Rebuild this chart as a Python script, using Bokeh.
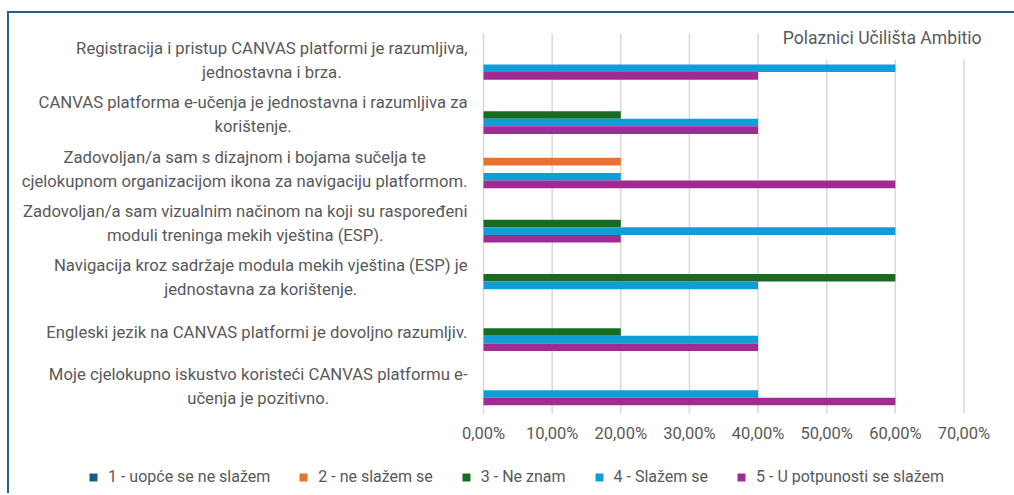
from bokeh.plotting import figure
from bokeh.layouts import column
from bokeh.models import (ColumnDataSource, FactorRange, Range1d, FixedTicker, Label,
                          Legend, LegendItem)
from bokeh.core.properties import value
from bokeh.transform import dodge
from bokeh.embed import file_html
from bokeh.resources import INLINE

categories = [
    "Registracija i pristup CANVAS platformi je razumljiva,\njednostavna i brza.",
    "CANVAS platforma e-učenja je jednostavna i razumljiva za\nkorištenje.",
    "Zadovoljan/a sam s dizajnom i bojama sučelja te\ncjelokupnom organizacijom ikona za navigaciju platformom.",
    "Zadovoljan/a sam vizualnim načinom na koji su raspoređeni\nmoduli treninga mekih vještina (ESP).",
    "Navigacija kroz sadržaje modula mekih vještina (ESP) je\njednostavna za korištenje.",
    "Engleski jezik na CANVAS platformi je dovoljno razumljiv.",
    "Moje cjelokupno iskustvo koristeći CANVAS platformu e-\nučenja je pozitivno.",
]
series_names = ["1 - uopće se ne slažem", "2 - ne slažem se", "3 - Ne znam",
                "4 - Slažem se", "5 - U potpunosti se slažem"]
s1 = [0.0, 0.0, 0.0, 0.0, 0.0, 0.0, 0.0]
s2 = [0.0, 0.0, 0.2, 0.0, 0.0, 0.0, 0.0]
s3 = [0.0, 0.2, 0.0, 0.2, 0.6, 0.2, 0.0]
s4 = [0.6, 0.4, 0.2, 0.6, 0.4, 0.4, 0.4]
s5 = [0.4, 0.4, 0.6, 0.2, 0.0, 0.4, 0.6]
colors = ["#156082", "#E97132", "#196B24", "#0F9ED5", "#A02B93"]
x_ticks = [0.0, 0.1, 0.2, 0.3, 0.4, 0.5, 0.6, 0.7]
x_tick_labels = ["0,00%", "10,00%", "20,00%", "30,00%", "40,00%", "50,00%", "60,00%", "70,00%"]
title_text = "Polaznici Učilišta Ambitio"

FONT = "Roboto"
GREY = "#595959"
n = len(categories)

source = ColumnDataSource(dict(cat=categories, s1=s1, s2=s2, s3=s3, s4=s4, s5=s5))
grid_src = ColumnDataSource(dict(x=x_ticks, y0=[0] * len(x_ticks), y1=[n] * len(x_ticks)))

# ---------------- main chart ----------------
p = figure(width=1005, height=440, output_backend="svg", toolbar_location=None,
           y_range=FactorRange(factors=list(reversed(categories)),
                               range_padding=0.1474, range_padding_units="absolute"),
           x_range=Range1d(-0.6906, 0.7736),
           min_border_left=0, min_border_right=0, min_border_top=12, min_border_bottom=32)
p.outline_line_color = None
p.background_fill_color = "white"
p.border_fill_color = "white"
p.xgrid.visible = False
p.ygrid.visible = False
p.yaxis.visible = False

# vertical gridlines at the x ticks, spanning the category bands
p.segment(x0="x", x1="x", y0="y0", y1="y1", source=grid_src,
          line_color="#d9d9d9", line_width=1.5)

bar_h = 0.14
offsets = [2 * bar_h, bar_h, 0.0, -bar_h, -2 * bar_h]
cols = ["s1", "s2", "s3", "s4", "s5"]
for col, off, c in zip(cols, offsets, colors):
    p.hbar(y=dodge("cat", off, range=p.y_range), left=0, right=col, height=bar_h,
           source=source, fill_color=c, line_color=None)

# category labels: right-aligned block, centred lines
p.text(x=0, y="cat", text="cat", source=source, x_offset=-16,
       text_align="center", anchor=value("center_right"),
       text_font=value(FONT), text_font_size="16.7px", text_color=GREY,
       text_line_height=1.27)

p.xaxis.ticker = FixedTicker(ticks=x_ticks)
p.xaxis.major_label_overrides = {t: l for t, l in zip(x_ticks, x_tick_labels)}
p.xaxis.axis_line_color = None
p.xaxis.major_tick_line_color = None
p.xaxis.minor_tick_line_color = None
p.xaxis.major_tick_in = 0
p.xaxis.major_tick_out = 0
p.xaxis.major_label_standoff = 2
p.xaxis.major_label_text_font = FONT
p.xaxis.major_label_text_font_size = "16.5px"
p.xaxis.major_label_text_color = GREY

p.add_layout(Label(x=0.7, y=384, x_units="data", y_units="screen", x_offset=29.5,
                   text=title_text, text_align="right", text_baseline="middle",
                   text_font=FONT, text_font_size="17.6px", text_color=GREY,
                   background_fill_color="white", padding=12))

# ---------------- legend strip ----------------
leg = figure(width=1005, height=40, output_backend="svg", toolbar_location=None,
             x_range=Range1d(0, 1), y_range=Range1d(0, 1),
             x_axis_location=None, y_axis_location=None,
             min_border_left=0, min_border_right=0, min_border_top=0, min_border_bottom=0)
leg.outline_line_color = None
leg.xgrid.visible = False
leg.ygrid.visible = False
items = []
for c, name in zip(colors, series_names):
    # zero-size swatch renderer, outside the visible range; only feeds the legend
    r = leg.hbar(y=[-1], left=[0], right=[0], height=0.1, fill_color=c, line_color=None)
    items.append(LegendItem(label=name, renderers=[r]))
legend = Legend(items=items, orientation="horizontal", location=(79, 7),
                glyph_width=10, glyph_height=10, label_height=10, label_standoff=10,
                spacing=28, padding=0, margin=0, border_line_color=None,
                background_fill_alpha=0, label_text_font=FONT,
                label_text_font_size="16px", label_text_color=GREY)
leg.add_layout(legend, "center")

layout = column(p, leg, spacing=0)
layout.styles = {"border-left": "2px solid #21628e", "border-top": "2px solid #21628e",
                 "margin-left": "7px", "margin-top": "11px"}

open("out.html", "w").write(file_html(layout, INLINE))
